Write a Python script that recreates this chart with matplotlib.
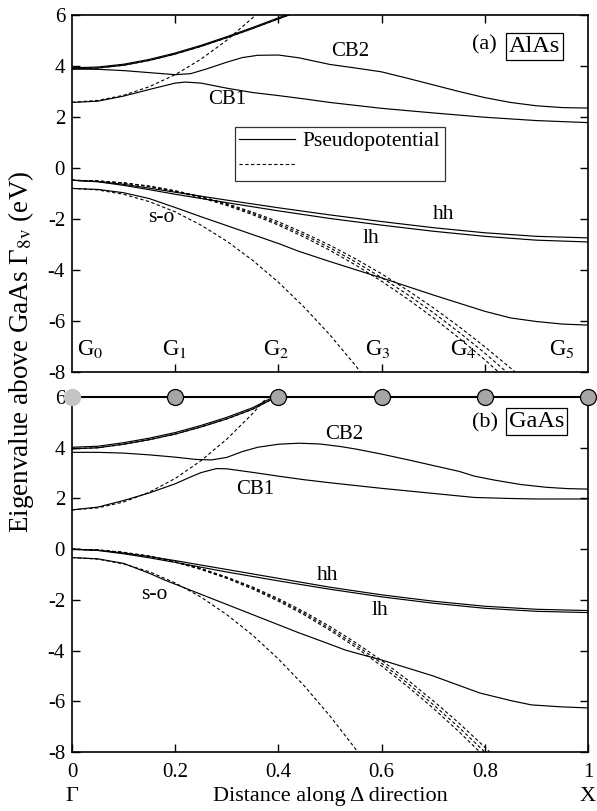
import matplotlib
matplotlib.use("Agg")
import matplotlib.pyplot as plt

plt.rcParams["font.family"] = ["Liberation Serif", "DejaVu Serif"]
plt.rcParams["mathtext.fontset"] = "stix"

# ---------------------------------------------------------------------------
# Data (x = distance along Delta, y = eigenvalue in eV)
# ---------------------------------------------------------------------------

# (a) AlAs -- solid (pseudopotential)
alas_up_x = [0, 0.05, 0.1, 0.15, 0.2, 0.25, 0.3, 0.35, 0.4, 0.43]
alas_up1_y = [3.93, 3.96, 4.07, 4.26, 4.51, 4.81, 5.15, 5.51, 5.89, 6.11]
alas_up2_y = [3.89, 3.92, 4.03, 4.22, 4.47, 4.77, 5.11, 5.47, 5.85, 6.07]
alas_cb2_x = [0, 0.05, 0.1, 0.15, 0.2, 0.23, 0.26, 0.3, 0.33, 0.36, 0.4, 0.44,
              0.5, 0.55, 0.6, 0.65, 0.7, 0.75, 0.8, 0.85, 0.9, 0.95, 1.0]
alas_cb2_y = [3.88, 3.87, 3.82, 3.74, 3.66, 3.7, 3.88, 4.15, 4.33, 4.42, 4.43, 4.32,
              4.06, 3.92, 3.77, 3.52, 3.26, 3.0, 2.76, 2.57, 2.44, 2.37, 2.35]
alas_cb1_x = [0, 0.05, 0.1, 0.15, 0.2, 0.22, 0.25, 0.3, 0.35, 0.4, 0.45, 0.5,
              0.6, 0.7, 0.8, 0.9, 1.0]
alas_cb1_y = [2.57, 2.62, 2.82, 3.08, 3.33, 3.37, 3.33, 3.13, 2.96, 2.84, 2.71, 2.57,
              2.34, 2.16, 1.99, 1.86, 1.78]
alas_vb_x = [0, 0.05, 0.1, 0.15, 0.2, 0.3, 0.4, 0.5, 0.6, 0.7, 0.8, 0.9, 1.0]
alas_hh_y = [-0.48, -0.53, -0.64, -0.79, -0.95, -1.26, -1.56, -1.84, -2.1, -2.34, -2.54, -2.68, -2.74]
alas_lh_y = [-0.48, -0.54, -0.68, -0.85, -1.03, -1.36, -1.68, -1.98, -2.24, -2.48, -2.68, -2.83, -2.9]
alas_so_x = [0, 0.05, 0.1, 0.15, 0.2, 0.25, 0.3, 0.35, 0.4, 0.44, 0.5, 0.6, 0.7,
             0.8, 0.85, 0.9, 0.95, 1.0]
alas_so_y = [-0.8, -0.84, -0.97, -1.2, -1.55, -1.91, -2.26, -2.61, -2.96, -3.27, -3.67, -4.31, -4.98,
             -5.62, -5.88, -6.02, -6.12, -6.16]

# (a) AlAs -- dashed
alas_dc_x = [0, 0.05, 0.1, 0.15, 0.2, 0.25, 0.3, 0.35, 0.36]
alas_dc_y = [2.58, 2.65, 2.85, 3.19, 3.66, 4.27, 5.01, 5.89, 6.08]
alas_dv_x = [0, 0.05, 0.1, 0.15, 0.2, 0.25, 0.3, 0.35, 0.4, 0.45, 0.5, 0.55,
             0.6, 0.65, 0.7, 0.75, 0.8, 0.85, 0.87]
alas_dv1_y = [-0.48, -0.51, -0.58, -0.71, -0.89, -1.12, -1.40, -1.73, -2.11, -2.55, -3.03, -3.57,
              -4.15, -4.79, -5.48, -6.22, -7.01, -7.85, -8.2]
alas_dv2_y = [-0.48, -0.51, -0.59, -0.72, -0.90, -1.14, -1.43, -1.78, -2.18, -2.63, -3.13, -3.69,
              -4.30, -4.96, -5.67, -6.44, -7.26, -8.14, -8.5]
alas_dv3_y = [-0.48, -0.51, -0.59, -0.73, -0.92, -1.17, -1.47, -1.83, -2.24, -2.71, -3.23, -3.81,
              -4.44, -5.13, -5.87, -6.67, -7.52, -8.43, -8.8]
alas_dso_x = [0, 0.05, 0.1, 0.15, 0.2, 0.25, 0.3, 0.35, 0.4, 0.45, 0.5, 0.55, 0.57]
alas_dso_y = [-0.8, -0.86, -1.03, -1.32, -1.72, -2.24, -2.87, -3.62, -4.48, -5.46, -6.55, -7.76, -8.3]

# (b) GaAs -- solid
gaas_up_x = [0, 0.05, 0.1, 0.15, 0.2, 0.25, 0.3, 0.35, 0.39]
gaas_up1_y = [4.02, 4.06, 4.2, 4.38, 4.6, 4.88, 5.2, 5.58, 6.0]
gaas_up2_y = [3.96, 4.0, 4.14, 4.32, 4.54, 4.82, 5.14, 5.52, 5.94]
gaas_cb2_x = [0, 0.05, 0.1, 0.15, 0.2, 0.24, 0.27, 0.3, 0.33, 0.36, 0.4, 0.44, 0.48,
              0.52, 0.55, 0.6, 0.65, 0.7, 0.75, 0.78, 0.82, 0.87, 0.92, 0.96, 1.0]
gaas_cb2_y = [3.82, 3.82, 3.79, 3.72, 3.63, 3.54, 3.52, 3.62, 3.85, 4.02, 4.14, 4.18, 4.15,
              4.05, 3.95, 3.75, 3.53, 3.3, 3.07, 2.88, 2.72, 2.55, 2.44, 2.39, 2.37]
gaas_cb1_x = [0, 0.05, 0.1, 0.15, 0.2, 0.23, 0.25, 0.28, 0.3, 0.35, 0.4, 0.45, 0.5,
              0.6, 0.7, 0.78, 0.85, 0.9, 1.0]
gaas_cb1_y = [1.55, 1.66, 1.92, 2.22, 2.58, 2.85, 3.02, 3.18, 3.17, 3.03, 2.88, 2.74, 2.62,
              2.4, 2.2, 2.04, 2.0, 1.98, 1.98]
gaas_vb_x = [0, 0.05, 0.1, 0.15, 0.2, 0.3, 0.4, 0.5, 0.6, 0.7, 0.8, 0.9, 1.0]
gaas_hh_y = [0.0, -0.04, -0.15, -0.29, -0.45, -0.8, -1.15, -1.5, -1.8, -2.05, -2.25, -2.37, -2.42]
gaas_lh_y = [0.0, -0.05, -0.18, -0.34, -0.52, -0.9, -1.25, -1.58, -1.88, -2.13, -2.33, -2.45, -2.5]
gaas_so_x = [0, 0.05, 0.1, 0.15, 0.18, 0.25, 0.3, 0.35, 0.4, 0.44, 0.5, 0.53, 0.56,
             0.6, 0.7, 0.79, 0.85, 0.89, 0.95, 1.0]
gaas_so_y = [-0.33, -0.38, -0.56, -0.95, -1.22, -1.78, -2.18, -2.58, -2.98, -3.3, -3.75, -3.98, -4.15,
             -4.37, -5.0, -5.67, -5.97, -6.14, -6.22, -6.26]

# (b) GaAs -- dashed
gaas_dc_x = [0, 0.05, 0.1, 0.15, 0.2, 0.25, 0.3, 0.35, 0.38]
gaas_dc_y = [1.55, 1.63, 1.86, 2.25, 2.79, 3.49, 4.34, 5.35, 6.03]
gaas_dv_x = [0, 0.05, 0.1, 0.15, 0.2, 0.25, 0.3, 0.35, 0.4, 0.45, 0.5, 0.55,
             0.6, 0.65, 0.7, 0.75, 0.8, 0.82]
gaas_dv1_y = [0.0, -0.03, -0.12, -0.27, -0.49, -0.76, -1.10, -1.49, -1.95, -2.47, -3.05, -3.69,
              -4.39, -5.15, -5.98, -6.86, -7.81, -8.2]
gaas_dv2_y = [0.0, -0.03, -0.13, -0.28, -0.5, -0.78, -1.13, -1.53, -2.0, -2.53, -3.13, -3.78,
              -4.5, -5.28, -6.13, -7.03, -8.0, -8.4]
gaas_dv3_y = [0.0, -0.03, -0.13, -0.29, -0.51, -0.8, -1.15, -1.57, -2.05, -2.59, -3.2, -3.87,
              -4.61, -5.41, -6.27, -7.2, -8.19, -8.6]
gaas_dso_x = [0, 0.05, 0.1, 0.15, 0.2, 0.25, 0.3, 0.35, 0.4, 0.45, 0.5, 0.55, 0.56]
gaas_dso_y = [-0.33, -0.39, -0.58, -0.89, -1.33, -1.89, -2.58, -3.39, -4.33, -5.39, -6.58, -7.89, -8.2]

# Markers on the shared boundary line
g_pts = [0, 0.2, 0.4, 0.6, 0.8, 1.0]
g_labels = ["G$_0$", "G$_1$", "G$_2$", "G$_3$", "G$_4$", "G$_5$"]
g_label_x = [0.01, 0.198, 0.395, 0.593, 0.758, 0.95]

yticks = [-8, -6, -4, -2, 0, 2, 4, 6]
xticks = [0, 0.2, 0.4, 0.6, 0.8, 1.0]
xticklabels = ["0", "0.2", "0.4", "0.6", "0.8", "1"]

LW = 0.85
SPINE_LW = 1.2
TICK_FS = 15
ANN_FS = 15.5
DASH = (0, (3, 2.2))

fig = plt.figure(figsize=(5.97, 8.11), dpi=100)
ax_a = fig.add_axes([0.1206, 0.5413, 0.8644, 0.4402])
ax_b = fig.add_axes([0.1206, 0.0727, 0.8644, 0.4377])


def style(ax):
    ax.set_xlim(0, 1)
    ax.set_ylim(-8, 6)
    ax.set_yticks(yticks)
    ax.set_yticklabels([str(v) for v in yticks], fontsize=TICK_FS)
    ax.set_xticks([0.2, 0.4, 0.6, 0.8])
    ax.tick_params(direction="in", length=6, width=1.0, right=True)
    ax.tick_params(axis="y", pad=5)
    for s in ax.spines.values():
        s.set_linewidth(SPINE_LW)


def solid(ax, x, y):
    ax.plot(x, y, color="black", lw=LW, solid_joinstyle="round")


def dashed(ax, x, y):
    ax.plot(x, y, color="black", lw=0.8, ls=DASH)


# ---------------- (a) AlAs ----------------
style(ax_a)
ax_a.tick_params(top=True, labelbottom=False)
solid(ax_a, alas_up_x, alas_up1_y)
solid(ax_a, alas_up_x, alas_up2_y)
solid(ax_a, alas_cb2_x, alas_cb2_y)
solid(ax_a, alas_cb1_x, alas_cb1_y)
solid(ax_a, alas_vb_x, alas_hh_y)
solid(ax_a, alas_vb_x, alas_lh_y)
solid(ax_a, alas_so_x, alas_so_y)
dashed(ax_a, alas_dc_x, alas_dc_y)
dashed(ax_a, alas_up_x, alas_up2_y)
dashed(ax_a, alas_dv_x, alas_dv1_y)
dashed(ax_a, alas_dv_x, alas_dv2_y)
dashed(ax_a, alas_dv_x, alas_dv3_y)
dashed(ax_a, alas_dso_x, alas_dso_y)

ax_a.text(0.54, 4.55, "CB2", fontsize=15, ha="center", va="center")
ax_a.text(0.30, 2.67, "CB1", fontsize=15, ha="center", va="center")
ax_a.text(0.72, -1.84, "hh", fontsize=ANN_FS, ha="center", va="center")
ax_a.text(0.58, -2.78, "lh", fontsize=ANN_FS, ha="center", va="center")
ax_a.text(0.174, -1.96, "s-o", fontsize=ANN_FS, ha="center", va="center")
ax_a.text(0.80, 4.82, "(a)", fontsize=16, ha="center", va="center")
ax_a.text(0.896, 4.78, "AlAs", fontsize=17.5, ha="center", va="center",
          bbox=dict(boxstyle="square,pad=0.12", fc="white", ec="black", lw=0.9))
for gx, gl in zip(g_label_x, g_labels):
    ax_a.text(gx, -7.1, gl, fontsize=16.5, ha="left" if gx < 0.05 else "center",
              va="center")

# legend: solid = Pseudopotential, dashed with empty label
h1, = ax_a.plot([], [], color="black", lw=LW)
h2, = ax_a.plot([], [], color="black", lw=0.8, ls=DASH)
leg = ax_a.legend([h1, h2], ["Pseudopotential", " "], loc="upper left",
                  bbox_to_anchor=(0.316, 0.686), fontsize=15.5, frameon=True,
                  fancybox=False, edgecolor="black", handlelength=2.6,
                  borderpad=0.2, labelspacing=0.25, handletextpad=0.35,
                  borderaxespad=0)
leg.get_frame().set_linewidth(0.9)

# ---------------- (b) GaAs ----------------
style(ax_b)
ax_b.tick_params(top=False)
ax_b.set_xticks(xticks)
ax_b.set_xticklabels(xticklabels, fontsize=TICK_FS)
ax_b.tick_params(axis="x", pad=8)
ax_b.spines["top"].set_visible(False)
solid(ax_b, gaas_up_x, gaas_up1_y)
solid(ax_b, gaas_up_x, gaas_up2_y)
solid(ax_b, gaas_cb2_x, gaas_cb2_y)
solid(ax_b, gaas_cb1_x, gaas_cb1_y)
solid(ax_b, gaas_vb_x, gaas_hh_y)
solid(ax_b, gaas_vb_x, gaas_lh_y)
solid(ax_b, gaas_so_x, gaas_so_y)
dashed(ax_b, gaas_dc_x, gaas_dc_y)
dashed(ax_b, gaas_up_x, gaas_up2_y)
dashed(ax_b, gaas_dv_x, gaas_dv1_y)
dashed(ax_b, gaas_dv_x, gaas_dv2_y)
dashed(ax_b, gaas_dv_x, gaas_dv3_y)
dashed(ax_b, gaas_dso_x, gaas_dso_y)

ax_b.text(0.527, 4.54, "CB2", fontsize=15, ha="center", va="center")
ax_b.text(0.355, 2.37, "CB1", fontsize=15, ha="center", va="center")
ax_b.text(0.496, -1.02, "hh", fontsize=ANN_FS, ha="center", va="center")
ax_b.text(0.597, -2.4, "lh", fontsize=ANN_FS, ha="center", va="center")
ax_b.text(0.16, -1.8, "s-o", fontsize=ANN_FS, ha="center", va="center")
ax_b.text(0.80, 4.97, "(b)", fontsize=16, ha="center", va="center")
ax_b.text(0.90, 5.03, "GaAs", fontsize=17.5, ha="center", va="center",
          bbox=dict(boxstyle="square,pad=0.12", fc="white", ec="black", lw=0.9))

# boundary line with G markers
ax_b.plot([0, 1], [6, 6], color="black", lw=1.5, clip_on=False, zorder=5)
ax_b.plot(g_pts[:1], [6], "o", ms=11.5, mfc="#c4c4c4", mec="#c4c4c4",
          clip_on=False, zorder=6)
ax_b.plot(g_pts[1:], [6] * (len(g_pts) - 1), "o", ms=11.5, mfc="#a6a6a6",
          mec="black", mew=0.9, clip_on=False, zorder=6)

# axis labels
ax_b.text(0.0, -9.75, "Γ", fontsize=16, ha="center", va="center")
ax_b.text(0.5, -9.75, "Distance along Δ direction", fontsize=16,
          ha="center", va="center")
ax_b.text(1.0, -9.75, "X", fontsize=16, ha="center", va="center")
fig.text(0.036, 0.566, r"Eigenvalue above GaAs Γ$_{\mathrm{8v}}$ (eV)",
         fontsize=19.5, rotation=90, ha="center", va="center")

fig.savefig("out.png", dpi=100)
